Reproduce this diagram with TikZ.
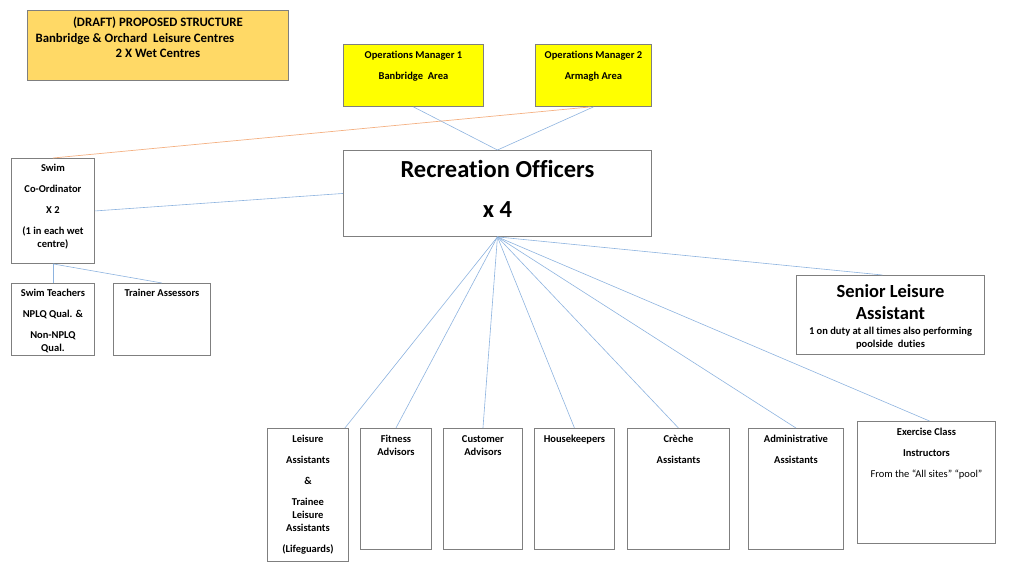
\documentclass[tikz,border=0pt]{standalone}
\usepackage{fontspec}
\setmainfont{Carlito}[Ligatures=NoCommon]
\usetikzlibrary{positioning}

\definecolor{draftorange}{HTML}{FFD966}
\definecolor{mgryellow}{HTML}{FFFF00}
\definecolor{linkblue}{HTML}{8DB3DF}
\definecolor{linkorange}{HTML}{F4B183}
\definecolor{boxgray}{HTML}{7F7F7F}

\begin{document}
\begin{tikzpicture}[x=1pt,y=-1pt,
staffbox/.style={draw=boxgray, line width=0.9pt, anchor=north west, inner sep=0pt},
boxtext/.style={anchor=north, align=center, inner sep=0pt, font=\fontsize{10.5}{13}\selectfont\bfseries},
bigtext/.style={anchor=north, align=center, inner sep=0pt, font=\fontsize{24.5}{40}\selectfont\bfseries},
bluelink/.style={draw=linkblue, line width=0.6pt},
orangelink/.style={draw=linkorange, line width=0.7pt}]

\useasboundingbox (0,0) rectangle (1024,576);

% title and managers
\node[staffbox, fill=draftorange, minimum width=261pt, minimum height=70pt] (draft) at (27,10) {};
\node[boxtext, font=\fontsize{12.8}{15.5}\selectfont\bfseries, below=7pt of draft.north] (drafttxt)
  {(DRAFT) PROPOSED STRUCTURE\\Banbridge \& Orchard\ \ Leisure Centres\hspace*{46pt}\null\\2 X Wet Centres};

\node[staffbox, fill=mgryellow, minimum width=140pt, minimum height=62pt] (ops1) at (343,44) {};
\node[boxtext, below=7pt of ops1.north] (ops1txt) {Operations Manager 1\\[8pt]Banbridge\ \ Area};
\node[staffbox, fill=mgryellow, minimum width=116pt, minimum height=62pt] (ops2) at (535,44) {};
\node[boxtext, below=7pt of ops2.north] (ops2txt) {Operations Manager 2\\[8pt]Armagh Area};

\node[staffbox, minimum width=308pt, minimum height=86pt] (rec) at (343,150) {};
\node[bigtext, below=10pt of rec.north] (rectxt) {Recreation Officers\\x 4};

% swim side
\node[staffbox, minimum width=83pt, minimum height=105pt] (swim) at (11,158) {};
\node[boxtext, below=6pt of swim.north] (swimtxt)
  {Swim\\[8pt]Co-Ordinator\\[8pt]X 2\\[8pt](1 in each wet\\centre)};
\node[staffbox, minimum width=83pt, minimum height=72pt] (teach) at (11,283) {};
\node[boxtext, below=6pt of teach.north] (teachtxt)
  {Swim Teachers\\[8pt]NPLQ Qual. \&\\[8pt]Non-NPLQ\\Qual.};
\node[staffbox, minimum width=97pt, minimum height=72pt] (trainer) at (113,283) {};
\node[boxtext, below=6pt of trainer.north] (trainertxt) {Trainer Assessors};

% senior
\node[staffbox, minimum width=188pt, minimum height=79pt] (senior) at (796,275) {};
\node[bigtext, font=\fontsize{18.5}{22.5}\selectfont\bfseries, below=9pt of senior.north] (seniortxt)
  {Senior Leisure\\Assistant};
\node[boxtext, below=7pt of seniortxt] (seniornote)
  {1 on duty at all times also performing\\poolside\ \ duties};

% bottom row
\node[staffbox, minimum width=81pt, minimum height=133pt] (leis) at (267,428) {};
\node[boxtext, below=7pt of leis.north] (leistxt)
  {Leisure\\[8pt]Assistants\\[8pt]\&\\[8pt]Trainee\\Leisure\\Assistants\\[8pt](Lifeguards)};
\node[staffbox, minimum width=71pt, minimum height=121pt] (fit) at (360,428) {};
\node[boxtext, below=7pt of fit.north] (fittxt) {Fitness\\Advisors};
\node[staffbox, minimum width=79pt, minimum height=121pt] (cust) at (443,428) {};
\node[boxtext, below=7pt of cust.north] (custtxt) {Customer\\Advisors};
\node[staffbox, minimum width=80pt, minimum height=121pt] (house) at (534,428) {};
\node[boxtext, below=7pt of house.north] (housetxt) {Housekeepers};
\node[staffbox, minimum width=102pt, minimum height=121pt] (creche) at (627,428) {};
\node[boxtext, below=7pt of creche.north] (crechetxt) {Crèche\\[8pt]Assistants};
\node[staffbox, minimum width=95pt, minimum height=121pt] (admin) at (748,428) {};
\node[boxtext, below=7pt of admin.north] (admintxt) {Administrative\\[8pt]Assistants};
\node[staffbox, minimum width=138pt, minimum height=122pt] (exer) at (857,421) {};
\node[boxtext, below=7pt of exer.north] (exertxt)
  {Exercise Class\\[8pt]Instructors\\[8pt]\mdseries From the “All sites” “pool”};

% connectors
\draw[bluelink] (ops1.south) -- (rec.north);
\draw[bluelink] (ops2.south) -- (rec.north);
\draw[orangelink] ([xshift=-3pt]ops2.south) -- (swim.north);
\draw[bluelink] (swim.east) -- (rec.west);
\draw[bluelink] (swim.south) -- (teach.north);
\draw[bluelink] (swim.south) -- (trainer.north);

\draw[bluelink] (rec.south) -- ([xshift=-4pt]leis.north east);
\draw[bluelink] (rec.south) -- (fit.north);
\draw[bluelink] (rec.south) -- (cust.north);
\draw[bluelink] (rec.south) -- (house.north);
\draw[bluelink] (rec.south) -- (creche.north);
\draw[bluelink] (rec.south) -- (admin.north);
\draw[bluelink] (rec.south) -- ([xshift=3pt]exer.north);
\draw[bluelink] (rec.south) -- ([xshift=-8pt]senior.north);

\end{tikzpicture}
\end{document}
